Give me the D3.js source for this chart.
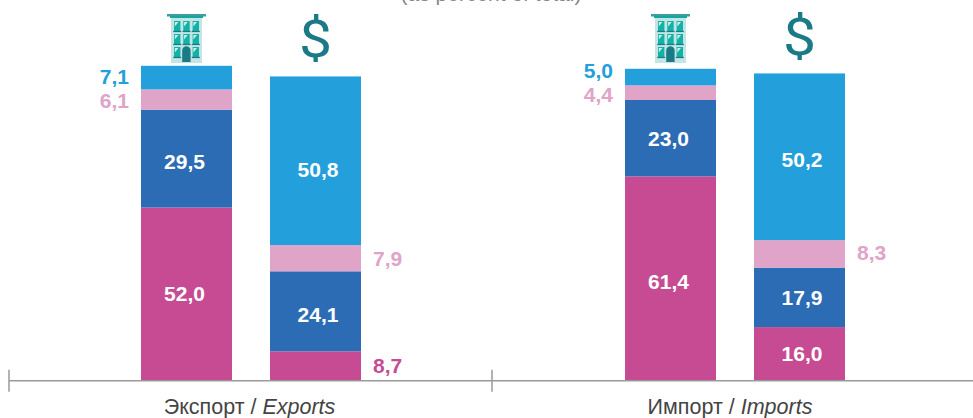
<!DOCTYPE html>
<html>
<head>
<meta charset="utf-8">
<script src="https://cdn.jsdelivr.net/npm/d3@7"></script>
<style>
  html, body { margin: 0; padding: 0; background: #fff; overflow: hidden; }
  text { font-family: "Liberation Sans", Arial, sans-serif; }
</style>
</head>
<body>
<div id="chart"></div>
<script>
const panels = ['Экспорт', 'Импорт'];
const panelsEn = ['Exports', 'Imports'];
const series = ['s1', 's2', 's3', 's4'];
const seriesColors = ['#c74b93', '#2b6cb5', '#e0a4c8', '#23a0dc'];
// each row: bottom to top, bank column then dollar column
const bankValues = [[52.0, 29.5, 6.1, 7.1], [61.4, 23.0, 4.4, 5.0]];
const dollarValues = [[8.7, 24.1, 7.9, 50.8], [16.0, 17.9, 8.3, 50.2]];
const subtitle = '(as percent of total)';

// layout only: labels in the original are hand placed
const labelNudgeY = {
  bank: [[0, 3, 1, -1], [3, 0, 2, -6]],
  dollar: [[0, 3, 0, 9], [0, 0, -1, 3]]
};
const labelNudgeX = { bank: -2, dollar: 2.5 };
const panelLabelX = [249.5, 246];

const width = 973, height = 418;
const baseY = 380.2;
const axisY = 380.7;
const svg = d3.select('#chart').append('svg')
  .attr('width', width).attr('height', height)
  .style('display', 'block');

const y = d3.scaleLinear().domain([0, 100]).range([baseY, baseY - 332]);
const colX = d3.scaleBand().domain(['bank', 'dollar']).range([141, 361]).paddingInner(38 / 129).paddingOuter(0);
const fmt = d3.format('.1f');
const label = v => fmt(v).replace('.', ',');

svg.append('text').attr('x', 491).attr('y', 0.5)
  .attr('text-anchor', 'middle').attr('fill', '#888').style('font-size', '21px')
  .text(subtitle);

panels.forEach((p, pi) => {
  const g = svg.append('g').attr('transform', `translate(${pi * 484},0)`);
  [['bank', bankValues[pi]], ['dollar', dollarValues[pi]]].forEach(([col, vals]) => {
    const stack = d3.stack().keys(series)([Object.fromEntries(series.map((s, i) => [s, vals[i]]))]);
    const x0 = colX(col), bw = colX.bandwidth();
    g.selectAll(null).data(stack).enter().append('rect')
      .attr('x', x0).attr('width', bw)
      .attr('y', d => y(d[0][1]))
      .attr('height', d => y(d[0][0]) - y(d[0][1]))
      .attr('fill', (d, i) => seriesColors[i]);

    g.selectAll(null).data(stack).enter().append('text')
      .each(function (d, i) {
        const v = vals[i];
        const mid = (y(d[0][0]) + y(d[0][1])) / 2 + labelNudgeY[col][pi][i];
        const inside = v >= 15;
        const sel = d3.select(this);
        sel.attr('dy', '0.35em').attr('y', mid)
          .style('font-size', '21px').style('font-weight', 'bold').text(label(v));
        if (inside) {
          sel.attr('x', x0 + bw / 2 + labelNudgeX[col]).attr('text-anchor', 'middle').attr('fill', '#fff');
        } else if (col === 'bank') {
          sel.attr('x', x0 - 12).attr('text-anchor', 'end').attr('fill', seriesColors[i]);
        } else {
          sel.attr('x', x0 + bw + 12).attr('text-anchor', 'start').attr('fill', seriesColors[i]);
        }
      });
  });

  // column icons
  const icon = g.append('g').attr('transform', `translate(${colX('bank') + colX.bandwidth() / 2},14)`);
  drawBuilding(icon);
  // roboto's $ is a bit narrow, stretch it
  g.append('text')
    .attr('transform', `translate(${colX('dollar') + colX.bandwidth() / 2},${pi ? 55 : 57}) scale(1.13,1)`)
    .attr('text-anchor', 'middle').attr('fill', '#1a7a85')
    .style('font-family', 'Roboto').style('font-size', '52px').text('$');

  g.append('text').attr('x', panelLabelX[pi]).attr('y', 414)
    .attr('text-anchor', 'middle').attr('fill', '#444').style('font-size', '21.5px')
    .call(t => {
      t.append('tspan').text(p + ' / ');
      t.append('tspan').style('font-style', 'italic').text(panelsEn[pi]);
    });
});

// axis line with panel ticks
const axisG = svg.append('g').attr('transform', `translate(0,${axisY})`);
axisG.append('line').attr('x1', 9).attr('x2', 973).attr('stroke', '#9a9a9a').attr('stroke-width', 1.5);
[9, 492].forEach(x => axisG.append('line').attr('x1', x).attr('x2', x).attr('y1', -11).attr('y2', 11)
  .attr('stroke', '#9a9a9a').attr('stroke-width', 1.5));

function drawBuilding(g) {
  g.append('rect').attr('x', -15.5).attr('y', 4).attr('width', 31).attr('height', 45).attr('fill', '#c3e5e5');
  g.append('rect').attr('x', -19.5).attr('y', 0).attr('width', 39).attr('height', 2.5).attr('fill', '#3a9ea3');
  g.append('rect').attr('x', -16.5).attr('y', 2).attr('width', 33).attr('height', 2).attr('fill', '#17a5a0');
  const cols = [-9.3, 0, 9.3], rows = [13, 26, 39];
  rows.forEach((ry, r) => cols.forEach((cx, c) => {
    if (r === 2 && c === 1) return;
    g.append('rect').attr('x', cx - 3.2).attr('y', ry - 6).attr('width', 6.4).attr('height', 10).attr('fill', '#12b3a6');
    g.append('path').attr('d', `M${cx - 2.4},${ry - 5}h3.6l-3.6,4.5z`).attr('fill', '#cfeeea');
    g.append('rect').attr('x', cx - 4).attr('y', ry + 3.8).attr('width', 8).attr('height', 1.3).attr('fill', '#1a7a85');
  }));
  g.append('path').attr('d', 'M-4.3,48V36.5a4.2,4.2 0 0 1 8.4,0V48z').attr('fill', '#1a7a85');
}
</script>
</body>
</html>
